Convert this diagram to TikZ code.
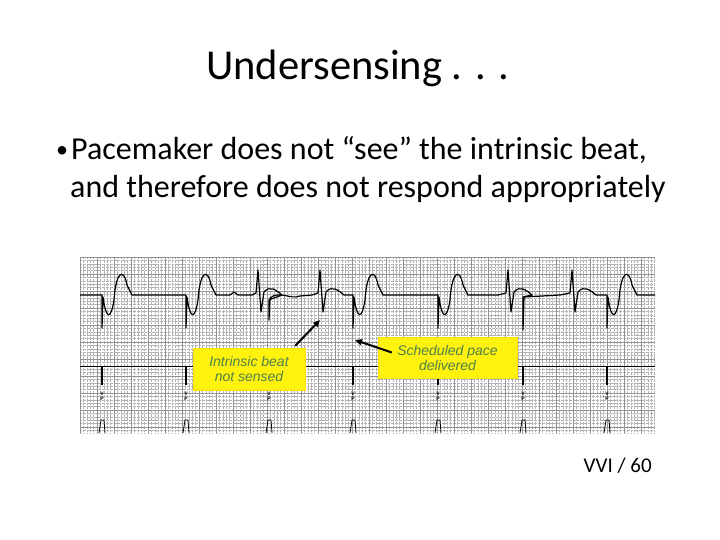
\documentclass[tikz,border=0pt]{standalone}
\usepackage{fontspec}
\setmainfont{Carlito}
\newfontfamily\arialfont{Liberation Sans}
\usetikzlibrary{arrows.meta}
\begin{document}
\begin{tikzpicture}[x=1pt,y=-1pt,
  lbl/.style={fill=yellow!95!white,draw=yellow!80!orange,font=\arialfont\itshape\fontsize{14}{15}\selectfont,text=green!25!gray!80!black,align=center,inner sep=1pt},
  ptr/.style={line width=2pt,-{Triangle[length=7pt,width=6pt]}},
  trace/.style={line width=1.2pt,line join=round},
  gridmaj/.style={gray!85,line width=0.4pt},
  gridmin/.style={gray!60,line width=0.35pt,densely dotted}]
\useasboundingbox (0,0) rectangle (720,540);
% grid
\fill[white] (80,257) rectangle (655,433);
\foreach \x in {80,83.4,...,655} \draw[gridmin] (\x,257)--(\x,433);
\foreach \y in {257,260.4,...,433} \draw[gridmin] (80,\y)--(655,\y);
\foreach \x in {80,97,...,655} \draw[gridmaj] (\x,257)--(\x,433);
\foreach \y in {257,274,...,433} \draw[gridmaj] (80,\y)--(655,\y);
% trace macros
\def\paced#1{-- (#1,295) -- (#1,328) -- (#1+1,297) .. controls (#1+4,320) and (#1+9,320) .. (#1+12,300) .. controls (#1+14,270) and (#1+22,268) .. (#1+25,285) -- (#1+30,295)}
\def\narrow#1{-- (#1-2,293) -- (#1,270) -- (#1+3,312) -- (#1+6,292) .. controls (#1+12,285) and (#1+18,290) .. (#1+24,295)}
\draw[trace] (80,295) -- (95,295)
  \paced{102} -- (180,295) \paced{186} -- (230,295) -- (234,292) -- (238,295) -- (252,295)
  \narrow{258} -- (269,300) -- (269,320) -- (270,298) .. controls (280,290) and (290,300) .. (300,296) -- (312,295)
  \narrow{320} -- (345,295) \paced{353} -- (430,295) \paced{438} -- (498,295)
  \narrow{508} -- (523,297) -- (523,330) -- (524,297) -- (560,295)
  \narrow{572} -- (600,295) \paced{607} -- (655,295);
% marker channel
\draw[line width=0.8pt] (80,366) -- (655,366);
\foreach \s in {102,186,269,353,438,523,607}{
  \draw[line width=2pt] (\s,366) -- (\s,385);
  \node[font=\arialfont\bfseries\fontsize{5}{5}\selectfont,align=center,inner sep=0] at (\s,396) {V\\P};
  \draw[line width=0.8pt] (\s-3,433) -- (\s-1,420) -- (\s+2,420) -- (\s+3,433);
}
% labels
\node[lbl,minimum width=112pt,minimum height=42pt] (b1) at (249,369) {Intrinsic beat\\not sensed};
\node[lbl,minimum width=139pt,minimum height=41pt] (b2) at (447.5,357.5) {Scheduled pace\\delivered};
\coordinate (t1) at (320,320);
\coordinate (t2) at (355,340);
\draw[ptr] (b1.north east) ++(-10,-2) coordinate (s1) -- (t1);
\draw[ptr] (b2.west) ++(14,-5) coordinate (s2) -- (t2);
% text
\node[font=\fontsize{42.5}{46}\selectfont,anchor=base] (title) at (358,80) {Undersensing . . .};
\node[font=\fontsize{24}{28}\selectfont,anchor=base west,inner sep=0] (bul) at (56,158) {•};
\node[font=\fontsize{32}{36}\selectfont,anchor=base west,inner sep=0] (l1) at (71,160) {Pacemaker does not “see” the intrinsic beat,};
\node[font=\fontsize{32}{36}\selectfont,anchor=base west,inner sep=0] (l2) at (70,198) {and therefore does not respond appropriately};
\node[font=\fontsize{21}{24}\selectfont,anchor=base east,inner sep=0] (vvi) at (652,472) {VVI / 60};
\end{tikzpicture}
\end{document}
